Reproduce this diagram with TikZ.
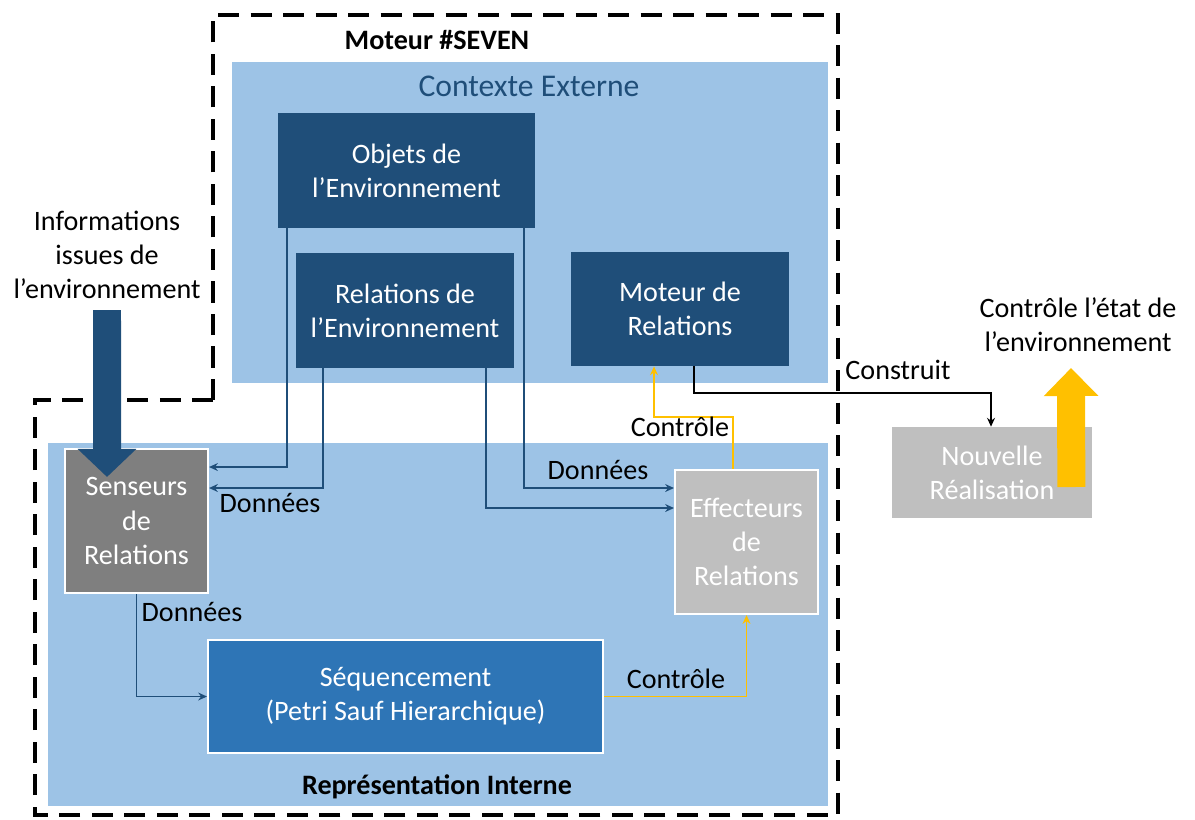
\documentclass[tikz,border=0pt]{standalone}
\usepackage{fontspec}
\setmainfont{Carlito}
\usetikzlibrary{arrows.meta}
\definecolor{bgblue}{HTML}{9DC3E6}
\definecolor{darkblue}{HTML}{1F4E79}
\definecolor{midblue}{HTML}{2E75B6}
\definecolor{darkgrey}{HTML}{7F7F7F}
\definecolor{lightgrey}{HTML}{BFBFBF}
\definecolor{ctrlyellow}{HTML}{FFC000}
\newcommand\boxfont{\fontsize{16}{19.5}\selectfont}

\begin{document}
\begin{tikzpicture}[
x=0.02cm,y=-0.02cm,font=\boxfont,
darkbox/.style={fill=darkblue,text=white,align=center,inner sep=0pt},
greybox/.style={fill=#1,draw=white,line width=1.2pt,text=white,align=center,inner sep=0pt},
datalink/.style={draw=darkblue,line width=1.1pt,-{Stealth[length=5pt,width=4.5pt]}},
ctrllink/.style={draw=ctrlyellow,line width=1.1pt,-{Stealth[length=5pt,width=4.5pt]}},
linklabel/.style={inner sep=1pt}
]
\useasboundingbox (0,0) rectangle (1195,819);
% zones
\fill[bgblue] (232,62) rectangle (828,383);
\fill[bgblue] (48,443) rectangle (828,806);
\draw[line width=1.8pt,dash pattern=on 12pt off 6.5pt] (213,400) -- (213,15) -- (838,15) -- (838,815) -- (35,815) -- (35,400) -- cycle;
\node (moteurtitle) at (437,40) {\bfseries Moteur \#SEVEN};
\node[text=darkblue,font=\fontsize{18}{22}\selectfont] (contextetitle) at (529,86) {Contexte Externe};
\node (internetitle) at (437,787) {\bfseries Représentation Interne};

% contexte externe
\node[darkbox,minimum width=5.14cm,minimum height=2.3cm] (objets) at (406.5,170.5) {Objets de\\l’Environnement};
\node[darkbox,minimum width=4.36cm,minimum height=2.3cm] (relenv) at (405,310.5) {Relations de\\l’Environnement};
\node[darkbox,minimum width=4.36cm,minimum height=2.28cm] (moteur) at (680,309) {Moteur de\\Relations};

% representation interne
\node[greybox=darkgrey,minimum width=2.86cm,minimum height=2.88cm] (senseurs) at (136.5,521) {Senseurs\\de\\Relations};
\node[greybox=lightgrey,minimum width=2.86cm,minimum height=2.88cm] (effecteurs) at (746.5,542) {Effecteurs\\de\\Relations};
\node[greybox=midblue,minimum width=7.9cm,minimum height=2.26cm] (sequence) at (405.5,696.5) {Séquencement\\(Petri Sauf Hierarchique)};

\node[fill=lightgrey,text=white,align=center,inner sep=0pt,minimum width=4cm,minimum height=1.82cm] (nouvelle) at (992,472.5) {Nouvelle\\Réalisation};

% liens
\draw[datalink] ([xshift=-2.39cm]objets.south) |- ([yshift=1.08cm]senseurs.east);
\draw[datalink] ([xshift=-1.64cm]relenv.south) |- ([yshift=0.66cm]senseurs.east);
\draw[datalink] ([xshift=2.35cm]objets.south) |- ([yshift=1.08cm]effecteurs.west);
\draw[datalink] ([xshift=1.62cm]relenv.south) |- ([yshift=0.68cm]effecteurs.west);
\draw[datalink] (senseurs.south) |- (sequence.west);
\draw[ctrllink] (sequence.east) -| (effecteurs.south);
\draw[ctrllink] ([xshift=-0.27cm]effecteurs.north) -- ++(0,-52) -| ([xshift=-0.52cm]moteur.south);
\draw[line width=1.1pt,-{Stealth[length=5pt,width=4.5pt]}] ([xshift=0.28cm]moteur.south) -- ++(0,27) -| ([xshift=-0.02cm]nouvelle.north);

\foreach \nm/\px/\py in {donneesa/270/503,donneesb/598/470,donneesc/192/612}
{
\node[linklabel] (\nm) at (\px,\py) {Données};
}
\node[linklabel] (controlea) at (680,427) {Contrôle};
\node[linklabel] (controleb) at (676,679) {Contrôle};
\node[linklabel] (construit) at (898,370) {Construit};

% entrees / sorties
\node[align=center] (info) at (107,255) {Informations\\issues de\\l’environnement};
\node[align=center] (etat) at (1078,325) {Contrôle l’état de\\l’environnement};
\coordinate (infotail) at (107,310);
\coordinate (etattip) at (1071,368);
\draw[darkblue,line width=0.56cm,-{Triangle[width=1.14cm,length=0.56cm]}] (infotail) -- ([xshift=-0.59cm,yshift=-0.58cm]senseurs.north);
\draw[ctrlyellow,line width=0.56cm,-{Triangle[width=1.06cm,length=0.56cm]}] ([xshift=-0.42cm,yshift=-0.29cm]nouvelle.east) -- (etattip);
\end{tikzpicture}
\end{document}
